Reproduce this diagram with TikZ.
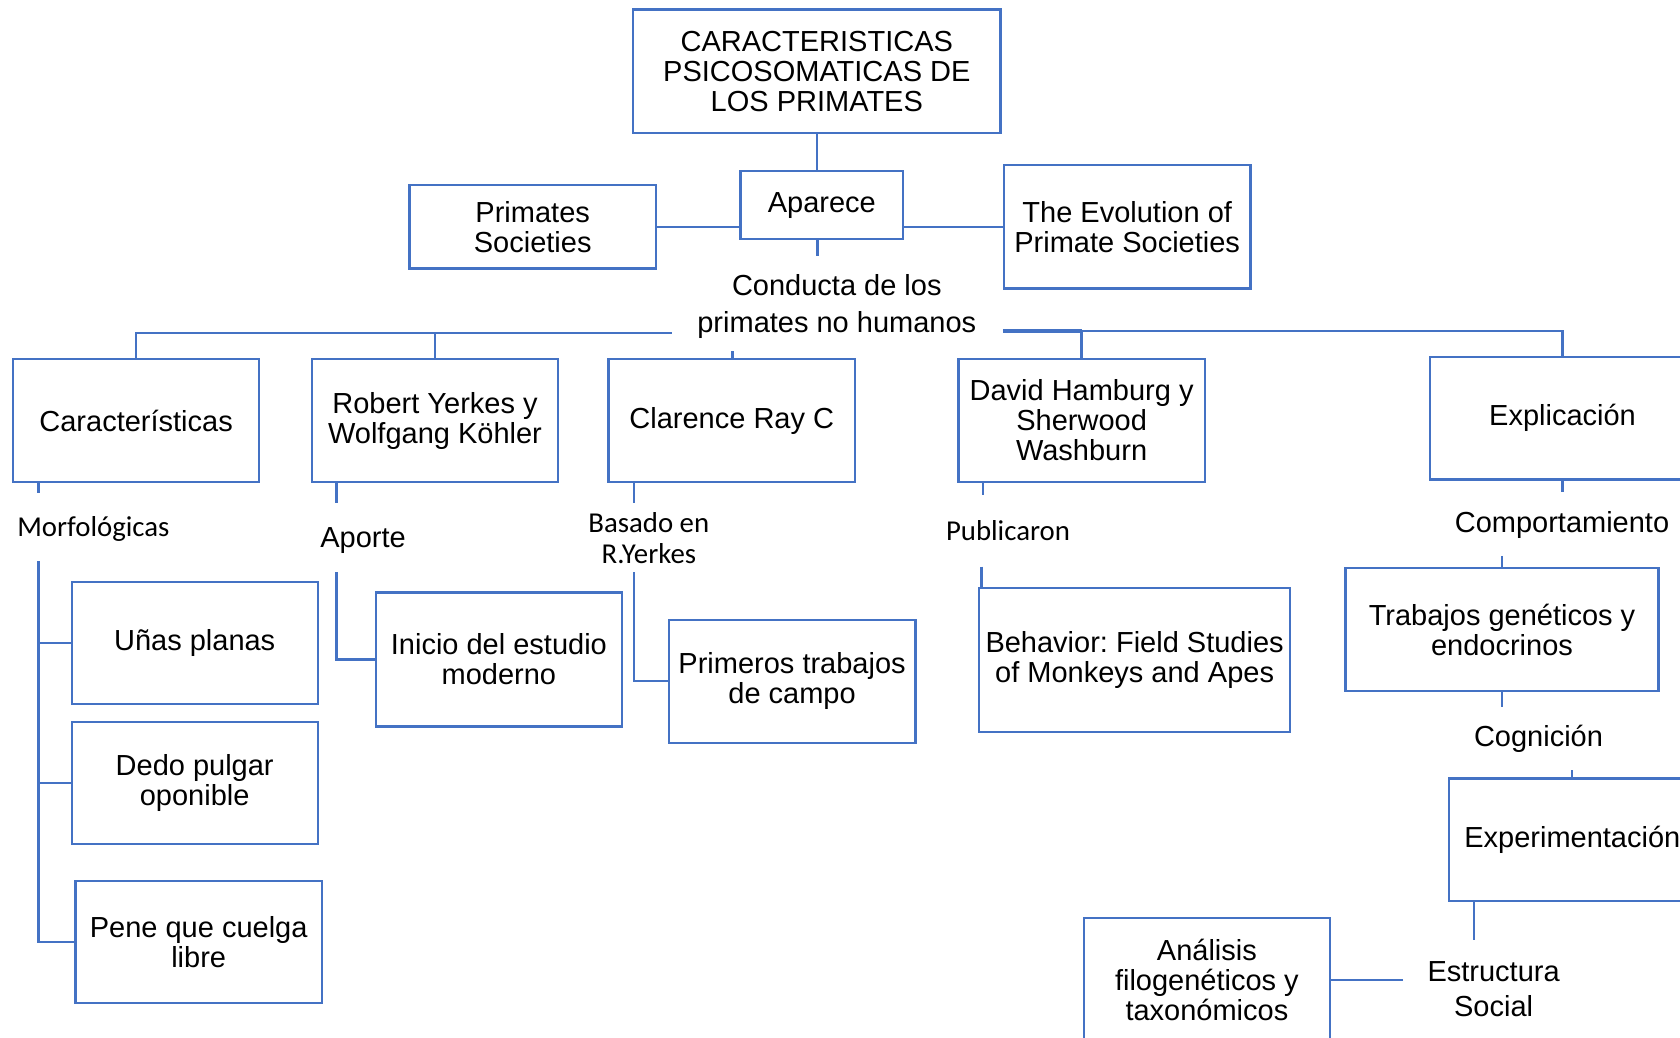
\documentclass[tikz,border=0pt]{standalone}
\usepackage{fontspec}
\setmainfont{Liberation Sans}
\newfontfamily\calfam{Carlito}
\definecolor{lineblue}{HTML}{4472C4}
\newcommand\ArialT{\normalfont\frenchspacing\fontsize{29}{30}\selectfont}
\newcommand\CalT{\calfam\fontsize{28.8}{31}\selectfont}
\begin{document}
\begin{tikzpicture}[x=1pt,y=-1pt,
 box/.style={draw=lineblue, line width=2.3pt, rectangle, inner sep=0pt, align=center, font=\ArialT},
 conn/.style={draw=lineblue, line width=2.3pt},
 albl/.style={inner sep=0pt, align=center, font=\ArialT},
 clbl/.style={inner sep=0pt, align=center, font=\CalT}]
\fill[white] (0,0) rectangle (1680,1037);
\useasboundingbox (0,0) rectangle (1680,1037);
\clip (0,0) rectangle (1680,1037);

% top part
\node[box, minimum width=367.5pt, minimum height=123.5pt] (title) at (816.8,71.3) {CARACTERISTICAS\\PSICOSOMATICAS DE\\LOS PRIMATES};
\node[box, minimum width=162.5pt, minimum height=67.8pt] (aparece) at (821.8,205.1) {Aparece};
\node[box, minimum width=246.7pt, minimum height=83.2pt] (primsoc) at (532.7,226.9) {Primates\\Societies};
\node[box, minimum width=246.3pt, minimum height=123.5pt] (evol) at (1127.2,226.8) {The Evolution of\\Primate Societies};
\node[albl, font=\normalfont\fontsize{29}{36.7}\selectfont] (conducta) at (836.8,306.6) {Conducta de los\\primates no humanos};

\draw[conn] (title.south) -- (title.south |- aparece.north);
\draw[conn] (primsoc.east) -- (primsoc.east -| aparece.west);
\draw[conn] (aparece.east |- evol.west) -- (evol.west);
\coordinate (a1) at (817.4,256);
\draw[conn] (a1 |- aparece.south) -- (a1);

% second row
\node[box, minimum width=246.4pt, minimum height=123.1pt] (carac) at (136.1,420.5) {Características};
\node[box, minimum width=246.4pt, minimum height=123.1pt] (robert) at (435,420.5) {Robert Yerkes y\\Wolfgang Köhler};
\node[box, minimum width=246.4pt, minimum height=123.1pt] (clarence) at (731.8,420.5) {Clarence Ray C};
\node[box, minimum width=246.4pt, minimum height=123.1pt] (david) at (1081.6,420.5) {David Hamburg y\\Sherwood\\Washburn};
\node[box, minimum width=264.4pt, minimum height=122.8pt] (explic) at (1562.5,418.1) {Explicación};

\coordinate (hl) at (671.6,332.7);
\draw[conn] (hl) -| (carac.north);
\draw[conn] (robert.north |- hl) -- (robert.north);
\coordinate (k0) at (732.5,351);
\draw[conn] (k0) -- (k0 |- clarence.north);
\coordinate (hr) at (1002.8,331);
\draw[conn] (hr) -| (explic.north);
\draw[conn] (david.north |- hr) -- (david.north);
\draw[lineblue, line width=4pt] (hr) -- (david.north |- hr);

% Caracteristicas branch
\node[clbl, anchor=west] (morf) at (17.1,529) {Morfológicas};
\node[box, minimum width=246pt, minimum height=122.6pt] (unas) at (194.7,643) {Uñas planas};
\node[box, minimum width=246pt, minimum height=122.6pt] (dedo) at (194.7,783) {Dedo pulgar\\oponible};
\node[box, minimum width=246.7pt, minimum height=122.6pt] (pene) at (198.7,942) {Pene que cuelga\\libre};
\coordinate (m1) at (38.5,492.8);
\draw[conn] (m1 |- carac.south) -- (m1);
\coordinate (m2) at (38.5,561);
\draw[conn] (m2) |- (pene.west);
\draw[conn] (m2 |- unas.west) -- (unas.west);
\draw[conn] (m2 |- dedo.west) -- (dedo.west);

% Robert branch
\node[albl] (aporte) at (363,540.7) {Aporte};
\node[box, minimum width=246pt, minimum height=134pt] (inicio) at (498.9,659.4) {Inicio del estudio\\moderno};
\coordinate (r1) at (336.6,503.3);
\draw[conn] (r1 |- robert.south) -- (r1);
\coordinate (r2) at (336.6,572.3);
\draw[conn] (r2) |- (inicio.west);

% Clarence branch
\node[clbl, font=\calfam\fontsize{28.8}{30.6}\selectfont] (basado) at (648.8,538) {Basado en\\R.Yerkes};
\node[box, minimum width=246.5pt, minimum height=122.7pt] (primeros) at (792.1,681.3) {Primeros trabajos\\de campo};
\coordinate (k1) at (634.3,503.3);
\draw[conn] (k1 |- clarence.south) -- (k1);
\coordinate (k2) at (634.3,572.3);
\draw[conn] (k2) |- (primeros.west);

% David branch
\node[clbl] (publ) at (1008,530.7) {Publicaron};
\node[box, minimum width=310.8pt, minimum height=143.4pt] (behav) at (1134.6,660) {Behavior: Field Studies\\of Monkeys and Apes};
\coordinate (d1) at (982.8,495);
\draw[conn] (d1 |- david.south) -- (d1);
\coordinate (d2) at (981.4,566.7);
\draw[conn] (d2) -- (d2 |- behav.north);

% Explicacion branch
\node[albl] (comport) at (1562,524.7) {Comportamiento};
\node[box, minimum width=313pt, minimum height=122.8pt] (trab) at (1502,629.6) {Trabajos genéticos y\\endocrinos};
\node[albl] (cogn) at (1538.5,739) {Cognición};
\node[box, minimum width=247pt, minimum height=122.7pt] (exper) at (1572.3,839.7) {Experimentación};
\node[albl, font=\normalfont\fontsize{29}{35}\selectfont] (estr) at (1493.6,989.5) {Estructura\\Social};
\node[box, minimum width=246.3pt, minimum height=123pt] (anal) at (1206.9,979.8) {Análisis\\filogenéticos y\\taxonómicos};

\coordinate (e1) at (1562.5,492.3);
\draw[conn] (explic.south) -- (e1);
\coordinate (e2) at (1502,555.8);
\draw[conn] (e2) -- (trab.north);
\coordinate (e3) at (1502,706.7);
\draw[conn] (trab.south) -- (e3);
\coordinate (e4) at (1572.3,770);
\draw[conn] (e4) -- (exper.north);
\coordinate (e5) at (1473.9,940);
\draw[conn] (exper.south -| e5) -- (e5);
\coordinate (e6) at (1403,979.8);
\draw[conn] (e6) -- (anal.east);
\end{tikzpicture}
\end{document}
